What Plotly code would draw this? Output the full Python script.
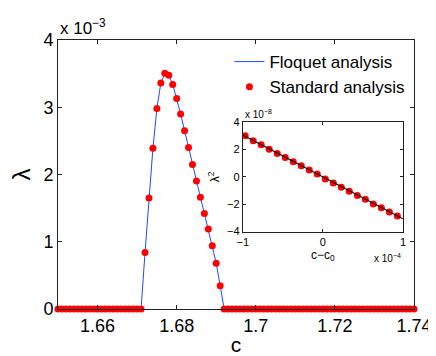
import numpy as np
import plotly.graph_objects as go

# main panel: growth rate lambda (x 1e-3) vs c
c_left = np.round(np.arange(1.650, 1.6715, 0.001), 3)
c_band = np.round(np.arange(1.672, 1.6915, 0.001), 3)
c_right = np.round(np.arange(1.692, 1.7405, 0.001), 3)
lam_band = [0.84, 1.65, 2.39, 2.98, 3.36, 3.505, 3.476, 3.34, 3.13, 2.90,
            2.65, 2.40, 2.15, 1.905, 1.66, 1.42, 1.19, 0.94, 0.68, 0.345]

c_all = np.concatenate([c_left, c_band, c_right])
lam_all = np.concatenate([np.zeros(len(c_left)), lam_band, np.zeros(len(c_right))])

# inset: lambda^2 (x 1e-8) vs c - c0 (x 1e-4)
dc = np.round(np.arange(-0.97, 0.95, 0.1), 2)
lam2 = [3.0, 2.64, 2.34, 2.02, 1.71, 1.41, 1.09, 0.81, 0.5, 0.21,
        -0.16, -0.45, -0.76, -1.05, -1.36, -1.64, -1.98, -2.26, -2.57, -2.86]
fit_x = [-1, 1]
fit_y = [3.05, -3.07]

FONT = "Liberation Sans, Arial, sans-serif"

fig = go.Figure()
fig.add_trace(go.Scatter(x=c_all, y=lam_all, mode="lines", name="Floquet analysis",
                         line=dict(color="#2348ff", width=1)))
fig.add_trace(go.Scatter(x=c_all, y=lam_all, mode="markers", name="Standard analysis",
                         marker=dict(color="#ff0000", size=7), cliponaxis=False))
fig.add_trace(go.Scatter(x=dc, y=lam2, mode="markers", showlegend=False,
                         marker=dict(color="#ff0000", size=7),
                         xaxis="x2", yaxis="y2"))
fig.add_trace(go.Scatter(x=fit_x, y=fit_y, mode="lines", showlegend=False,
                         line=dict(color="black", width=1.2),
                         xaxis="x2", yaxis="y2"))

axis_common = dict(showline=True, mirror="ticks", linecolor="#222", linewidth=1,
                   ticks="inside", tickcolor="#222", showgrid=False, zeroline=False)

fig.update_layout(
    width=436, height=356,
    margin=dict(l=50, r=23, t=32, b=49),
    plot_bgcolor="white", paper_bgcolor="white",
    font=dict(family=FONT, color="black"),
    xaxis=dict(range=[1.65, 1.74], tickvals=[1.66, 1.68, 1.70, 1.72, 1.74],
               ticktext=["1.66", "1.68", "1.7", "1.72", "1.74"],
               ticklen=4, tickfont=dict(size=18),
               title=dict(text="c", font=dict(size=21), standoff=2), **axis_common),
    yaxis=dict(range=[0, 4], tickvals=[0, 1, 2, 3, 4], ticklen=4,
               tickfont=dict(size=18),
               title=dict(text="λ", font=dict(size=24), standoff=6), **axis_common),
    xaxis2=dict(domain=[0.519, 0.969], anchor="y2", range=[-1, 1], tickvals=[-1, 0, 1],
                ticklen=3, tickfont=dict(size=11),
                title=dict(text="c−c<sub>0</sub>", font=dict(size=12), standoff=2),
                **axis_common),
    yaxis2=dict(domain=[0.288, 0.695], anchor="x2", range=[-4, 4],
                tickvals=[-4, -2, 0, 2, 4], ticklen=3, tickfont=dict(size=11),
                title=dict(text="λ<sup>2</sup>", font=dict(size=12), standoff=4),
                **axis_common),
    legend=dict(x=0.99, y=0.985, xanchor="right", yanchor="top",
                bgcolor="rgba(255,255,255,0)", font=dict(size=17),
                itemwidth=30, tracegroupgap=0),
    annotations=[
        dict(text="x 10<sup>−3</sup>", x=0.0, y=1.0, xref="paper", yref="paper",
             xanchor="left", yanchor="bottom", showarrow=False,
             font=dict(size=17, family=FONT)),
        dict(text="x 10<sup>−8</sup>", x=0.519, y=0.695, xref="paper", yref="paper",
             xanchor="left", yanchor="bottom", showarrow=False,
             font=dict(size=10, family=FONT)),
        dict(text="x 10<sup>−4</sup>", x=0.969, y=0.288, xref="paper", yref="paper",
             xanchor="right", yanchor="top", yshift=-18, showarrow=False,
             font=dict(size=10, family=FONT)),
    ],
)

fig.write_html("out.html")
